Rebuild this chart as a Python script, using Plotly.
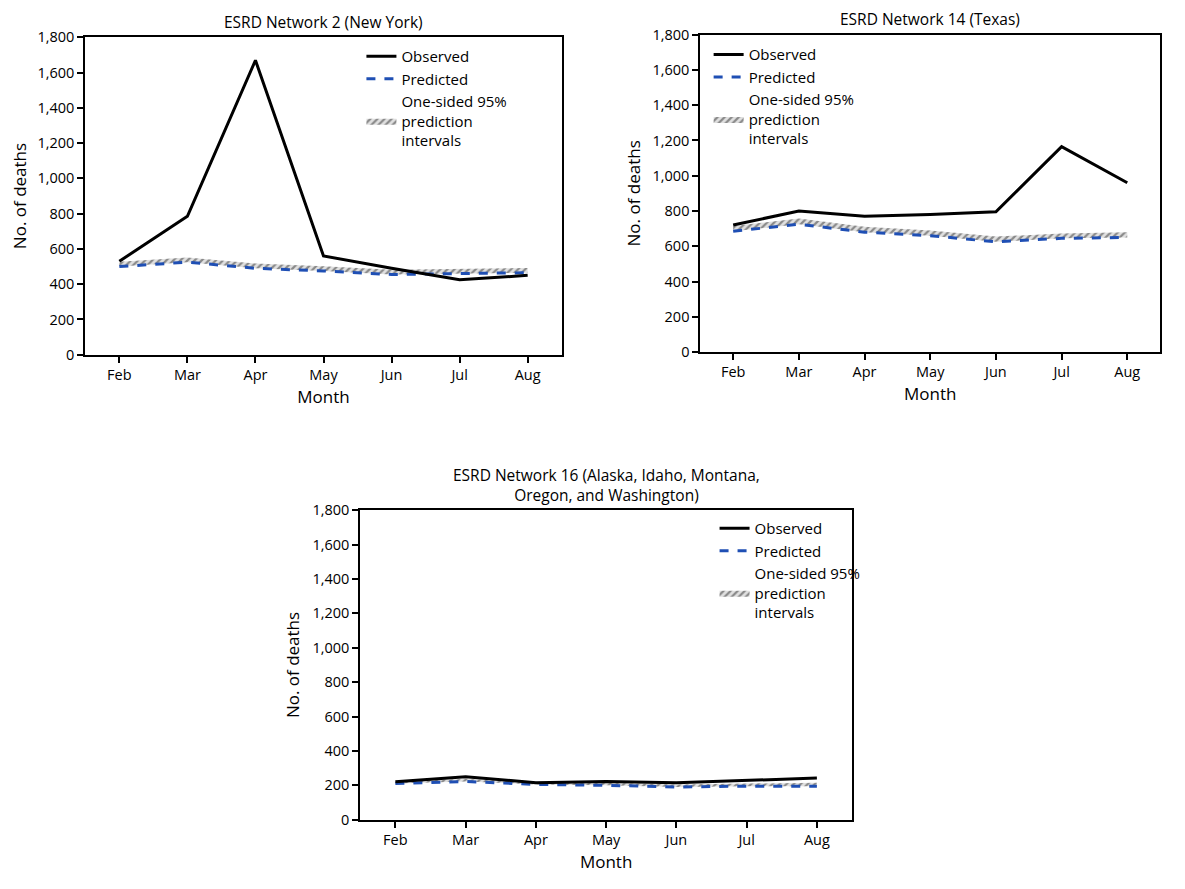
import plotly.graph_objects as go

months = ['Feb', 'Mar', 'Apr', 'May', 'Jun', 'Jul', 'Aug']

ny_observed = [530, 785, 1670, 560, 490, 425, 450]
ny_predicted = [500, 525, 490, 475, 455, 460, 465]
ny_upper = [527, 552, 517, 502, 482, 487, 492]

tx_observed = [720, 800, 770, 780, 795, 1165, 960]
tx_predicted = [685, 725, 680, 660, 625, 645, 650]
tx_upper = [715, 758, 710, 690, 655, 672, 680]

nw_observed = [220, 250, 215, 222, 215, 228, 242]
nw_predicted = [210, 222, 205, 200, 190, 195, 195]
nw_upper = [225, 237, 220, 215, 205, 210, 215]

titles = ['ESRD Network 2 (New York)', 'ESRD Network 14 (Texas)',
          'ESRD Network 16 (Alaska, Idaho, Montana,<br>Oregon, and Washington)']

panels = [(ny_observed, ny_predicted, ny_upper),
          (tx_observed, tx_predicted, tx_upper),
          (nw_observed, nw_predicted, nw_upper)]

# page body adds 8px offset, compensate
dx, dy = -8 / 1185, 8 / 889
x_domains = [[0.072 + dx, 0.474 + dx], [0.591 + dx, 0.979 + dx], [0.304 + dx, 0.719 + dx]]
y_domains = [[0.601 + dy, 0.958 + dy], [0.604 + dy, 0.961 + dy], [0.078 + dy, 0.426 + dy]]
legend_pos = [(0.305 + dx, 0.955 + dy), (0.598 + dx, 0.957 + dy), (0.603 + dx, 0.424 + dy)]

FONT = 'Open Sans'
fig = go.Figure()

for i, (obs, pred, upper) in enumerate(panels):
    n = '' if i == 0 else str(i + 1)
    xa, ya = 'x' + n, 'y' + n
    leg = 'legend' + n
    fig.add_trace(go.Scatter(x=months, y=pred, mode='lines', line=dict(width=0),
                             showlegend=False, xaxis=xa, yaxis=ya, legend=leg,
                             hoverinfo='skip'))
    fig.add_trace(go.Scatter(x=months, y=upper, mode='lines', line=dict(width=0),
                             fill='tonexty', fillcolor='rgba(0,0,0,0)',
                             fillpattern=dict(shape='/', fgcolor='#333333', bgcolor='#e0e0e0',
                                              size=5, solidity=0.45),
                             name='One-sided 95%<br>prediction<br>intervals', legendrank=3,
                             xaxis=xa, yaxis=ya, legend=leg))
    fig.add_trace(go.Scatter(x=months, y=pred, mode='lines',
                             line=dict(color='#1f4fb4', width=3, dash='dash'),
                             name='Predicted', legendrank=2, xaxis=xa, yaxis=ya, legend=leg))
    fig.add_trace(go.Scatter(x=months, y=obs, mode='lines',
                             line=dict(color='black', width=3),
                             name='Observed', legendrank=1, xaxis=xa, yaxis=ya, legend=leg))

    axis_common = dict(showline=True, linecolor='black', linewidth=2, mirror=True,
                       ticks='outside', ticklen=6, tickwidth=1.5, tickcolor='black',
                       showgrid=False, zeroline=False, automargin=False,
                       tickfont=dict(family=FONT, size=14.5, color='black'))
    fig.update_layout({
        'xaxis' + n: dict(domain=x_domains[i], anchor=ya, range=[-0.5, 6.5],
                          title=dict(text='Month', font=dict(family=FONT, size=17, color='black'),
                                     standoff=8),
                          **axis_common),
        'yaxis' + n: dict(domain=y_domains[i], anchor=xa, range=[0, 1800], dtick=200,
                          tickformat=',',
                          title=dict(text='No. of deaths', font=dict(family=FONT, size=17, color='black'),
                                     standoff=8),
                          **axis_common),
        leg: dict(x=legend_pos[i][0], y=legend_pos[i][1], xanchor='left', yanchor='top',
                  bgcolor='rgba(0,0,0,0)', traceorder='normal', tracegroupgap=0,
                  font=dict(family=FONT, size=15, color='black')),
    })
    cx = sum(x_domains[i]) / 2
    fig.add_annotation(text=titles[i], x=cx, y=y_domains[i][1] + 0.003, xref='paper', yref='paper',
                       xanchor='center', yanchor='bottom', showarrow=False,
                       font=dict(family=FONT, size=15.5, color='black'))

fig.update_layout(width=1185, height=889, margin=dict(l=0, r=0, t=0, b=0, autoexpand=False),
                  paper_bgcolor='white', plot_bgcolor='white',
                  font=dict(family=FONT, color='black'))

fig.write_html('out.html')
